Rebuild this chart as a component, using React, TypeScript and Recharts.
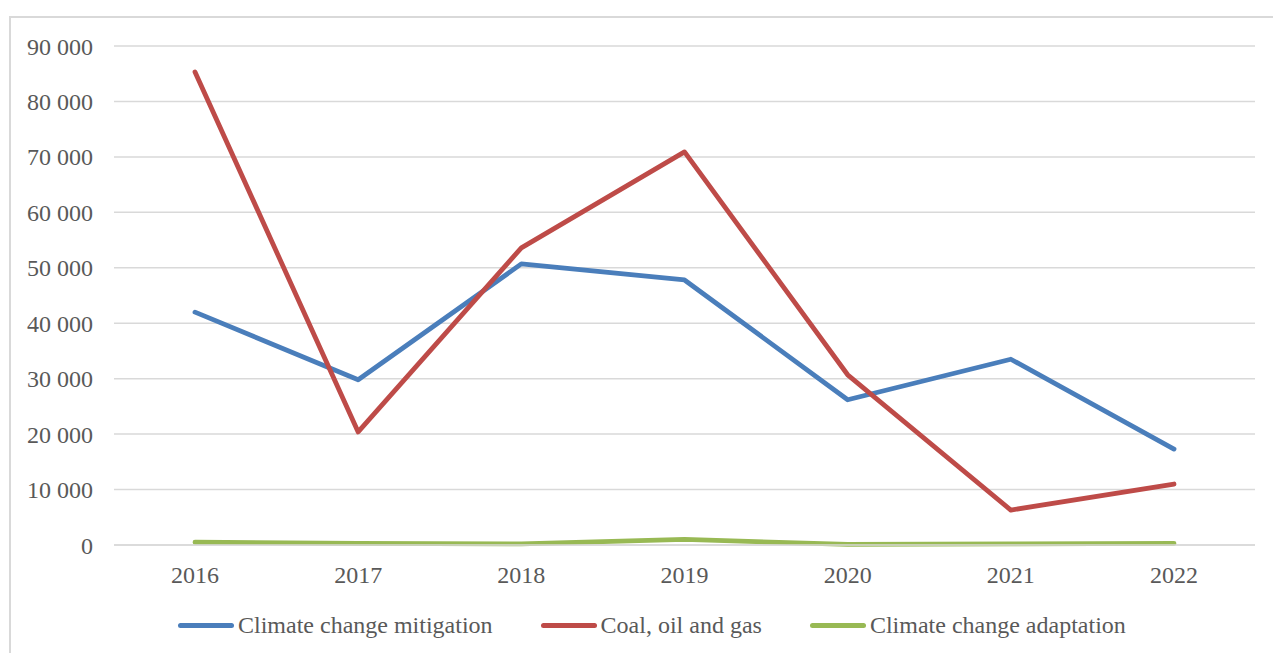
import { LineChart, Line, XAxis, YAxis, CartesianGrid, Legend } from 'recharts';

const years = ['2016', '2017', '2018', '2019', '2020', '2021', '2022'];
const mitigation = [42000, 29800, 50700, 47800, 26200, 33500, 17300];
const fossil = [85300, 20400, 53600, 70900, 30700, 6300, 11000];
const adaptation = [500, 300, 200, 1000, 100, 200, 300];
const yTicks = [0, 10000, 20000, 30000, 40000, 50000, 60000, 70000, 80000, 90000];

const series = [
    { key: 'mitigation', name: 'Climate change mitigation', color: '#4a7ebb' },
    { key: 'fossil', name: 'Coal, oil and gas', color: '#be4b48' },
    { key: 'adaptation', name: 'Climate change adaptation', color: '#98b954' },
];

const data = years.map((year, i) => ({
    year,
    mitigation: mitigation[i],
    fossil: fossil[i],
    adaptation: adaptation[i],
}));

const fmt = (v: number) => String(v).replace(/\B(?=(\d{3})+(?!\d))/g, ' ');

const font = '"Liberation Serif", "Times New Roman", serif';

function LegendBox() {
    return (
        <div style={{ display: 'flex', alignItems: 'center', fontFamily: font, fontSize: 24, color: '#595959', whiteSpace: 'nowrap' }}>
            {series.map((s, i) => (
                <div key={s.key} style={{ display: 'flex', alignItems: 'center', marginLeft: i === 0 ? 0 : 48 }}>
                    <div style={{ width: 56, height: 5, borderRadius: 3, background: s.color, marginRight: 4 }} />
                    <span>{s.name}</span>
                </div>
            ))}
        </div>
    );
}

export default function App() {
    return (
        <div style={{ position: 'absolute', left: 0, top: 0, width: 1273, height: 653, background: '#fff', overflow: 'hidden' }}>
            <div style={{ position: 'absolute', left: 9, top: 16, width: 1300, height: 700, border: '2px solid #d9d9d9' }} />
            <div style={{ position: 'absolute', left: 0, top: 0 }}>
                <LineChart width={1273} height={653} data={data} margin={{ top: 46, right: 18, left: 0, bottom: 28 }}>
                    <CartesianGrid vertical={false} stroke="#d9d9d9" strokeWidth={1.5} />
                    <XAxis
                        dataKey="year"
                        axisLine={{ stroke: '#d9d9d9', strokeWidth: 1.5 }}
                        tickLine={false}
                        tickSize={0}
                        tickMargin={21}
                        padding={{ left: 81, right: 81 }}
                        height={50}
                        tick={{ fill: '#595959', fontSize: 24, fontFamily: font }}
                    />
                    <YAxis
                        domain={[0, 90000]}
                        ticks={yTicks}
                        tickFormatter={fmt}
                        axisLine={false}
                        tickLine={false}
                        tickSize={0}
                        tickMargin={21}
                        width={114}
                        interval={0}
                        tick={{ fill: '#595959', fontSize: 24, fontFamily: font }}
                    />
                    <Legend
                        verticalAlign="bottom"
                        content={() => <LegendBox />}
                        wrapperStyle={{ position: 'absolute', left: 178, top: 612, width: 1050, height: 30 }}
                    />
                    {series.map((s) => (
                        <Line
                            key={s.key}
                            dataKey={s.key}
                            name={s.name}
                            stroke={s.color}
                            strokeWidth={4.8}
                            strokeLinecap="round"
                            strokeLinejoin="round"
                            dot={false}
                            activeDot={false}
                            isAnimationActive={false}
                        />
                    ))}
                </LineChart>
            </div>
        </div>
    );
}
